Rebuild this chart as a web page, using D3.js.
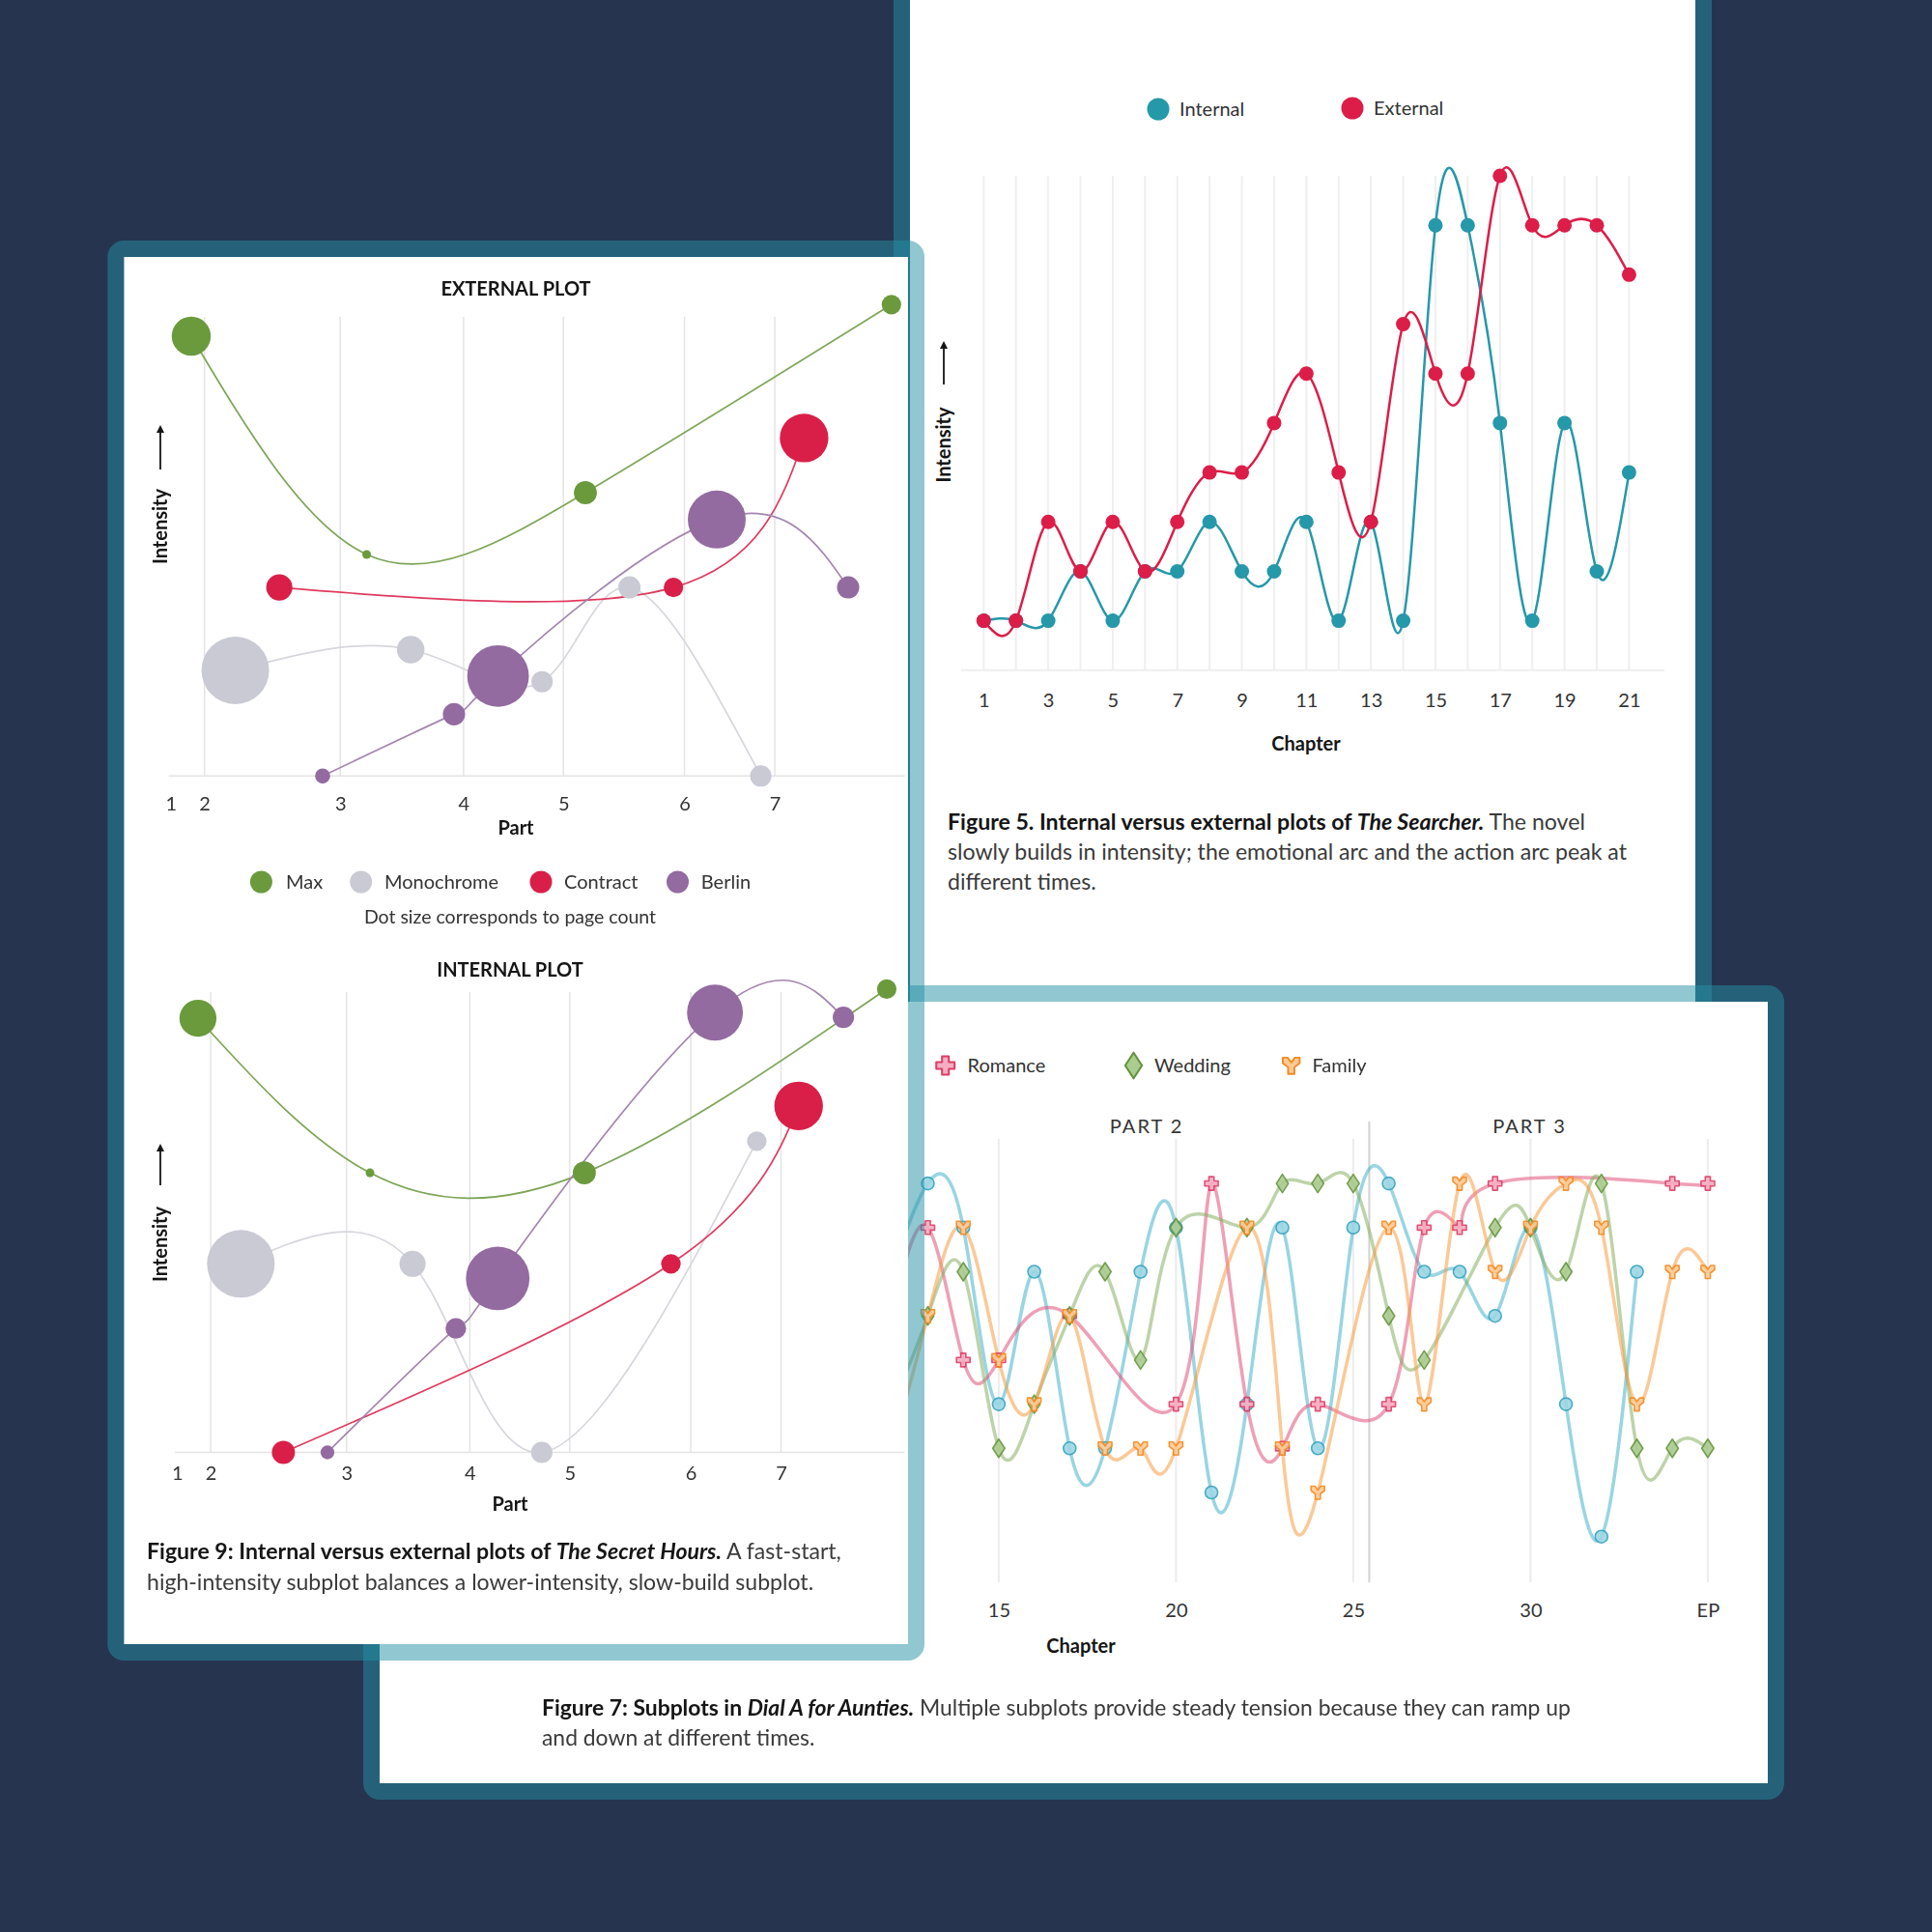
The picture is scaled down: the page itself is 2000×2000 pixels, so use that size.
<!DOCTYPE html>
<html><head><meta charset="utf-8">
<script src="https://cdn.jsdelivr.net/npm/d3@7/dist/d3.min.js"></script>
<style>
html,body{margin:0;padding:0;background:#263450;}
svg{display:block;}
text{font-family:Lato,"Noto Sans",sans-serif;}
</style></head>
<body>
<svg id="chart" width="2000" height="2000"></svg>
<script>
// ================= DATA =================
// Figure 5 – The Searcher
const searcherChapters = [1,2,3,4,5,6,7,8,9,10,11,12,13,14,15,16,17,18,19,20,21];
const searcherInternal = [0,0,0,1,0,1,1,2,1,1,2,0,2,0,8,8,4,0,4,1,3];
const searcherExternal = [0,0,2,1,2,1,2,3,3,4,5,3,2,6,5,5,9,8,8,8,7];
const searcherTicks = [1,3,5,7,9,11,13,15,17,19,21];
const searcherSeries = ["Internal","External"];

// Figure 9 – The Secret Hours (x = % through book, y = intensity, size = page count)
const secretBooks = ["Max","Monochrome","Contract","Berlin"];
const partTicks = [0,4.6,23.1,39.9,53.5,70.0,82.3];
const partLabels = ["1","2","3","4","5","6","7"];
const extX = [[2.8,26.7,56.5,98.2],[8.8,32.7,50.6,62.5,80.4],[14.8,68.5,86.3],[20.7,38.6,44.6,74.4,92.3]];
const extY = [[9.33,4.70,6.01,10.0],[2.24,2.68,2.0,4.0,0],[4.0,4.0,7.17],[0,1.31,2.12,5.44,4.0]];
const extPages = [[20,1,7,5],[60,10,6,6.5,6],[9,5,31],[3,6.5,50,44,6.5]];
const intX = [[2.86,26.3,55.5,96.7],[8.7,32.1,49.7,79.0],[14.5,67.3,84.7],[20.5,38.0,43.7,73.3,90.8]];
const intY = [[9.21,5.93,5.93,9.83],[4.0,4.0,0,6.6],[0,4.0,7.35],[0,2.63,3.69,9.33,9.23]];
const intPages = [[18,1,7,5],[60,9,6,5],[7,5,31],[2.5,5.5,53,41,6]];

// Figure 7 – Dial A for Aunties
const mainChapters = [12,13,14,15,16,17,18,19,20,21,22,23,24,25,26,27,28,29,30,31,32,33];
const mainValues   = [7,9,8,4,7,3,3,7,8,2,4,8,3,8,9,7,7,6,8,4,1,7];
const romanceChapters = [12,13,14,15,17,20,21,22,23,24,26,27,28,29,34,35];
const romanceValues   = [6,8,5,5,6,4,9,4,3,4,4,8,8,9,9,9];
const weddingChapters = [12,13,14,15,16,17,18,19,20,22,23,24,25,26,27,29,30,31,32,33,34,35];
const weddingValues   = [4,6,7,3,4,6,7,5,8,8,9,9,9,6,5,8,8,7,9,3,3,3];
const familyChapters  = [12,13,14,15,16,17,18,19,20,22,23,24,26,27,28,29,30,31,32,33,34,35];
const familyValues    = [3,6,8,5,4,6,3,3,3,8,3,2,8,4,9,7,8,9,8,4,7,7];
const auntieLegend = ["Romance","Wedding","Family"];
const auntieTicks = [15,20,25,30,35];
const auntieTickLabels = ["15","20","25","30","EP"];
const partBreaks = [12.9,25.45,34.5];
const partNames = ["PART 2","PART 3"];

// ================= DRAW =================
const svg = d3.select("#chart");
svg.append("rect").attr("width",2000).attr("height",2000).attr("fill","#263450");
const BAND = "rgba(35,143,164,0.5)";
const TXT = "#2e2e2e";

function cardBase(x0,y0,x1,y1){
  const g = svg.append("g");
  g.append("rect").attr("x",x0).attr("y",y0).attr("width",x1-x0).attr("height",y1-y0).attr("fill","#fff");
  return g;
}
function cardBand(g,x0,y0,x1,y1){
  g.append("rect").attr("x",x0-8.5).attr("y",y0-8.5).attr("width",x1-x0+17).attr("height",y1-y0+17)
    .attr("rx",8.5).attr("fill","none").attr("stroke",BAND).attr("stroke-width",17);
}
function txt(g,x,y,s,o={}){
  return g.append("text").attr("x",x).attr("y",y).attr("dy","0.35em")
    .attr("font-size",o.size||20).attr("font-weight",o.weight||400)
    .attr("text-anchor",o.anchor||"start").attr("fill",o.fill||TXT)
    .attr("letter-spacing",o.ls||0).text(s);
}
function caption(g,x,y,lh,parts,rest,targetW){
  const t1 = g.append("text").attr("x",x).attr("y",y).attr("dy","0.35em").attr("font-size",20).style("white-space","pre");
  parts.forEach(p=>t1.append("tspan").attr("font-weight",p[1]).attr("font-style",p[2])
    .attr("fill",p[1]===700?"#151515":"#3a3a3a").text(p[0]));
  const w = t1.node().getBBox().width;
  const fs = 20*targetW/w;
  t1.attr("font-size",fs);
  rest.forEach((s,i)=>g.append("text").attr("x",x).attr("y",y+lh*(i+1)).attr("dy","0.35em")
    .attr("font-size",fs).attr("fill","#3a3a3a").text(s));
}
function yLabel(g,cx,textCy,arrowTop,arrowBottom){
  g.append("text").attr("transform",`translate(${cx},${textCy}) rotate(-90)`).attr("text-anchor","middle")
    .attr("dy","0.35em").attr("font-size",20).attr("font-weight",700).attr("fill","#151515").text("Intensity");
  g.append("line").attr("x1",cx).attr("x2",cx).attr("y1",arrowBottom).attr("y2",arrowTop+6)
    .attr("stroke","#151515").attr("stroke-width",1.8);
  g.append("path").attr("d",`M${cx},${arrowTop} L${cx-4},${arrowTop+8} L${cx+4},${arrowTop+8} Z`).attr("fill","#151515");
}

// ---------- Figure 5 card ----------
{
  const C = [942,-100,1755,1100];
  const g = cardBase(...C);
  const x = d3.scaleLinear().domain([1,21]).range([1018.3,1686.4]);
  const y = d3.scaleLinear().domain([-1,9]).range([693.8,182]);
  const colors = ["#2598a9","#dc1d48"];
  g.append("g").selectAll("line").data(searcherChapters).join("line")
    .attr("x1",d=>x(d)).attr("x2",d=>x(d)).attr("y1",y(9)).attr("y2",y(-1))
    .attr("stroke","#efefef").attr("stroke-width",2);
  g.append("line").attr("x1",x(0.3)).attr("x2",x(22.1)).attr("y1",y(-1)).attr("y2",y(-1))
    .attr("stroke","#eeeeee").attr("stroke-width",2);
  const ax = g.append("g").attr("transform",`translate(0,${y(-1)})`)
    .call(d3.axisBottom(x).tickValues(searcherTicks).tickFormat(d3.format("d")).tickSize(0).tickPadding(24));
  ax.select(".domain").remove();
  ax.selectAll("text").attr("font-size",20).attr("font-family","Lato").attr("fill","#333");
  txt(g,1352,770,"Chapter",{size:20,weight:700,anchor:"middle",fill:"#151515"});
  yLabel(g,977,460.5,353,398);
  const line = d3.line().x((d,i)=>x(searcherChapters[i])).y(d=>y(d)).curve(d3.curveNatural);
  [searcherInternal,searcherExternal].forEach((vals,k)=>{
    g.append("path").attr("d",line(vals)).attr("fill","none").attr("stroke",colors[k]).attr("stroke-width",2.5);
    g.append("g").selectAll("circle").data(vals).join("circle")
      .attr("cx",(d,i)=>x(searcherChapters[i])).attr("cy",d=>y(d)).attr("r",7.5).attr("fill",colors[k]);
  });
  // legend
  [[1199,113,1221],[1400,112,1422]].forEach((p,k)=>{
    g.append("circle").attr("cx",p[0]).attr("cy",p[1]).attr("r",11.5).attr("fill",colors[k]);
    txt(g,p[2],p[1],searcherSeries[k],{size:20,fill:"#333"});
  });
  caption(g,981,851,31,[["Figure 5. Internal versus external plots of ",700,"normal"],["The Searcher.",700,"italic"],[" The novel",400,"normal"]],
    ["slowly builds in intensity; the emotional arc and the action arc peak at","different times."],660);
  cardBand(g,...C);
}

// ---------- Figure 7 card ----------
{
  const C = [393,1037,1830,1846];
  const g = cardBase(...C);
  const x = d3.scaleLinear().domain([15,35]).range([1033.9,1767.9]);
  const y = d3.scaleLinear().domain([0,9]).range([1636.4,1225.1]);
  g.append("g").selectAll("line").data(auntieTicks).join("line")
    .attr("x1",d=>x(d)).attr("x2",d=>x(d)).attr("y1",1179).attr("y2",1638)
    .attr("stroke","#ececec").attr("stroke-width",2);
  g.append("line").attr("x1",x(partBreaks[1])).attr("x2",x(partBreaks[1])).attr("y1",1161).attr("y2",1638)
    .attr("stroke","#d2d2d2").attr("stroke-width",2);
  partNames.forEach((n,i)=>txt(g,x((partBreaks[i]+partBreaks[i+1])/2),1166,n,{size:20,anchor:"middle",ls:2,fill:"#333"}));
  const ax = g.append("g").attr("transform",`translate(0,${y(0)})`)
    .call(d3.axisBottom(x).tickValues(auntieTicks).tickFormat((d,i)=>auntieTickLabels[i]).tickSize(0).tickPadding(23));
  ax.select(".domain").remove();
  ax.selectAll("text").attr("font-size",20).attr("font-family","Lato").attr("fill","#333");
  txt(g,1119,1704,"Chapter",{size:20,weight:700,anchor:"middle",fill:"#151515"});

  const shapes = {
    circle: null,
    cross: "M-2.6,-7 H2.6 V-2.6 H7 V2.6 H2.6 V7 H-2.6 V2.6 H-7 V-2.6 H-2.6 Z",
    diamond: "M0,-9.5 L6.2,0 L0,9.5 L-6.2,0 Z",
    family: "M-7,-6.5 L-3,-6.5 L0,-2.5 L3,-6.5 L7,-6.5 L7,-2 L2.6,1.5 L2.6,7 L-2.6,7 L-2.6,1.5 L-7,-2 Z"
  };
  const series = [
    {ch:mainChapters,v:mainValues,line:"#46b2cb",fill:"#9dd7e4",stroke:"#34a3bf",shape:"circle"},
    {ch:romanceChapters,v:romanceValues,line:"#e0527a",fill:"#f5aec1",stroke:"#de3d67",shape:"cross"},
    {ch:weddingChapters,v:weddingValues,line:"#86ae62",fill:"#abcb8f",stroke:"#63933c",shape:"diamond"},
    {ch:familyChapters,v:familyValues,line:"#f89c42",fill:"#fdcb98",stroke:"#f4891f",shape:"family"}
  ];
  const line = d3.line().curve(d3.curveNatural);
  series.forEach(s=>{
    const pts = s.ch.map((c,i)=>[x(c),y(s.v[i])]);
    g.append("path").attr("d",line(pts)).attr("fill","none").attr("stroke",s.line)
      .attr("stroke-width",3.5).attr("stroke-opacity",0.55);
  });
  series.forEach(s=>{
    const mg = g.append("g").attr("opacity",0.9);
    s.ch.forEach((c,i)=>{
      if(s.shape==="circle"){
        mg.append("circle").attr("cx",x(c)).attr("cy",y(s.v[i])).attr("r",6.5)
          .attr("fill",s.fill).attr("stroke",s.stroke).attr("stroke-width",1.6);
      } else {
        mg.append("path").attr("d",shapes[s.shape]).attr("transform",`translate(${x(c)},${y(s.v[i])})`)
          .attr("fill",s.fill).attr("stroke",s.stroke).attr("stroke-width",1.6).attr("stroke-linejoin","round");
      }
    });
  });
  // legend
  const legPos = [[978.7,1001.6,1.35],[1173.5,1195,1.4],[1336.7,1358.4,1.25]];
  auntieLegend.forEach((n,i)=>{
    const s = series[i+1], p = legPos[i];
    g.append("path").attr("d",shapes[s.shape]).attr("transform",`translate(${p[0]},1103) scale(${p[2]})`)
      .attr("fill",s.fill).attr("stroke",s.stroke).attr("stroke-width",1.5).attr("stroke-linejoin","round");
    txt(g,p[1],1103,n,{size:20,fill:"#333"});
  });
  caption(g,561,1768,30.5,[["Figure 7: Subplots in ",700,"normal"],["Dial A for Aunties.",700,"italic"],[" Multiple subplots provide steady tension because they can ramp up",400,"normal"]],
    ["and down at different times."],1065);
  cardBand(g,...C);
}

// ---------- Figure 9 card ----------
{
  const C = [128.3,266,940,1702];
  const g = cardBase(...C);
  const dotColors = ["#6a9a3c","#c9cad3","#d91f48","#936ba0"];
  const lineColors = ["#7da556","#d6d7dd","#e03a5e","#a485b0"];
  const r = d3.scaleSqrt().domain([0,60]).range([0,35]);
  function plot(cfg){
    const x = d3.scaleLinear().domain([0,100]).range([cfg.x0,cfg.x0+759.8]);
    const y = d3.scaleLinear().domain([0,10]).range([cfg.base,cfg.base-488]);
    txt(g,cfg.titleX,cfg.titleY,cfg.title,{size:20,weight:700,anchor:"middle",fill:"#151515"});
    g.append("g").selectAll("line").data(partTicks.slice(1)).join("line")
      .attr("x1",d=>x(d)).attr("x2",d=>x(d)).attr("y1",cfg.gridTop).attr("y2",cfg.base)
      .attr("stroke","#e4e4e4").attr("stroke-width",1.5);
    g.append("line").attr("x1",cfg.x0-2).attr("x2",936.5).attr("y1",cfg.base).attr("y2",cfg.base)
      .attr("stroke","#e4e4e4").attr("stroke-width",1.5);
    const ax = g.append("g").attr("transform",`translate(0,${cfg.base})`)
      .call(d3.axisBottom(x).tickValues(partTicks).tickFormat((d,i)=>partLabels[i]).tickSize(0).tickPadding(cfg.pad));
    ax.select(".domain").remove();
    ax.selectAll("text").attr("font-size",20).attr("font-family","Lato").attr("fill","#333");
    txt(g,cfg.titleX,cfg.partY,"Part",{size:20,weight:700,anchor:"middle",fill:"#151515"});
    yLabel(g,166,cfg.labY,cfg.arrTop,cfg.arrBot);
    const line = d3.line().x(d=>x(d[0])).y(d=>y(d[1])).curve(d3.curveNatural);
    const pts = secretBooks.map((b,i)=>cfg.xs[i].map((xv,j)=>[xv,cfg.ys[i][j],cfg.pages[i][j]]));
    pts.forEach((p,i)=>g.append("path").attr("d",line(p)).attr("fill","none").attr("stroke",lineColors[i]).attr("stroke-width",1.7));
    pts.forEach((p,i)=>g.append("g").selectAll("circle").data(p).join("circle")
      .attr("cx",d=>x(d[0])).attr("cy",d=>y(d[1])).attr("r",d=>r(d[2])).attr("fill",dotColors[i]));
  }
  plot({x0:176.7,base:803.3,gridTop:328,pad:22,title:"EXTERNAL PLOT",titleX:534,titleY:298.5,partY:857,
        labY:545,arrTop:440,arrBot:486,xs:extX,ys:extY,pages:extPages});
  plot({x0:183.2,base:1503.5,gridTop:1027,pad:14,title:"INTERNAL PLOT",titleX:528,titleY:1004,partY:1557,
        labY:1288,arrTop:1184,arrBot:1227,xs:intX,ys:intY,pages:intPages});
  // legend
  const lp = [[270.4,296],[373.7,398],[560,584],[701.5,725.8]];
  secretBooks.forEach((b,i)=>{
    g.append("circle").attr("cx",lp[i][0]).attr("cy",913).attr("r",11.5).attr("fill",dotColors[i]);
    txt(g,lp[i][1],913,b,{size:20,fill:"#333"});
  });
  txt(g,528,949,"Dot size corresponds to page count",{size:19.5,anchor:"middle",fill:"#333"});
  caption(g,152,1606,32,[["Figure 9: Internal versus external plots of ",700,"normal"],["The Secret Hours.",700,"italic"],[" A fast-start,",400,"normal"]],
    ["high-intensity subplot balances a lower-intensity, slow-build subplot."],719);
  cardBand(g,...C);
}
</script>
</body></html>
